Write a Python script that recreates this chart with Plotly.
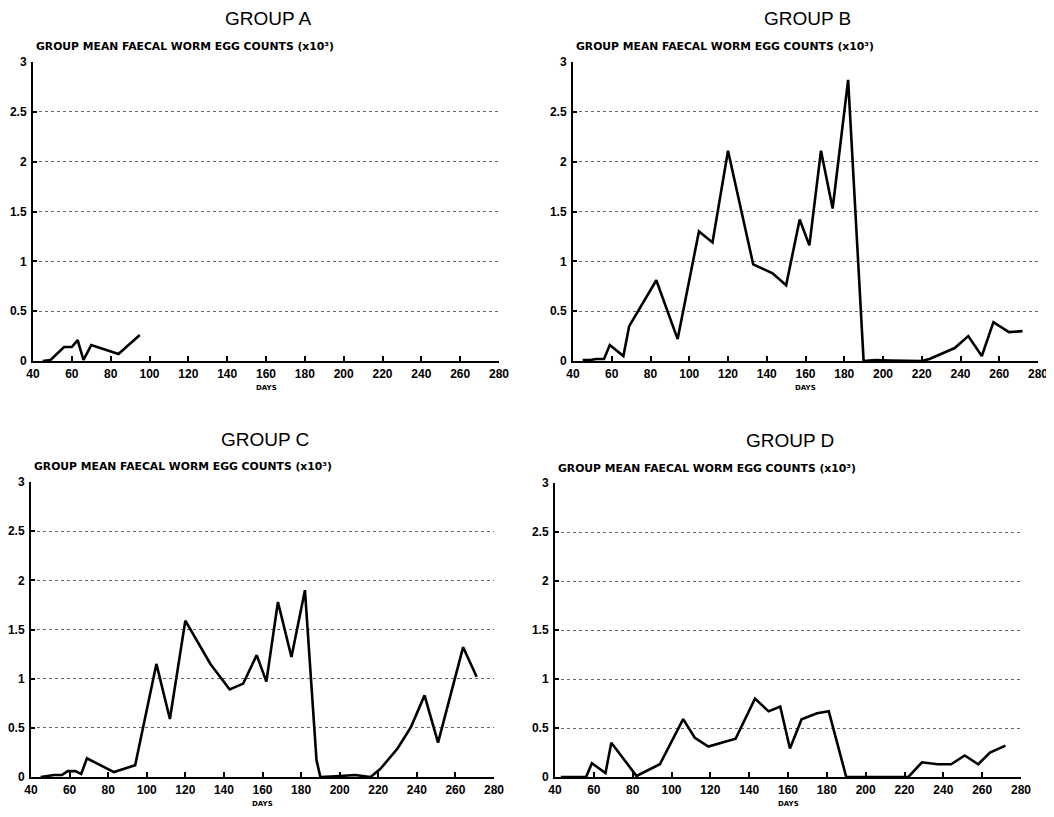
import plotly.graph_objects as go

# ---------------- data ----------------
days_a = [45, 49, 56, 60, 63, 66, 70, 84, 95]
vals_a = [0.0, 0.01, 0.14, 0.14, 0.21, 0.01, 0.16, 0.07, 0.26]

days_b = [45, 49, 52, 56, 59, 66, 69, 83, 94, 105, 112, 120, 133, 143, 150, 157, 162,
          168, 174, 182, 190, 196, 204, 212, 220, 224, 237, 244, 251, 257, 265, 272]
vals_b = [0.01, 0.01, 0.02, 0.02, 0.16, 0.05, 0.35, 0.81, 0.22, 1.30, 1.19, 2.11, 0.97,
          0.88, 0.76, 1.42, 1.16, 2.11, 1.53, 2.82, 0.0, 0.01, 0.005, 0.0, 0.0, 0.02,
          0.13, 0.25, 0.05, 0.39, 0.29, 0.30]

days_c = [45, 49, 52, 56, 59, 63, 66, 69, 83, 94, 105, 112, 120, 133, 143, 150, 157,
          162, 168, 175, 182, 188, 190, 200, 208, 216, 221, 230, 237, 244, 251, 264, 271]
vals_c = [0.0, 0.01, 0.02, 0.02, 0.06, 0.06, 0.03, 0.19, 0.05, 0.12, 1.15, 0.59, 1.59,
          1.15, 0.89, 0.95, 1.24, 0.97, 1.78, 1.22, 1.90, 0.17, 0.0, 0.01, 0.02, 0.0,
          0.08, 0.29, 0.51, 0.83, 0.35, 1.32, 1.02]

days_d = [43, 56, 59, 66, 69, 82, 94, 106, 112, 119, 133, 143, 150, 156, 161, 167, 175,
          181, 190, 200, 222, 229, 237, 244, 251, 258, 264, 272]
vals_d = [0.0, 0.0, 0.14, 0.04, 0.35, 0.01, 0.13, 0.59, 0.40, 0.31, 0.39, 0.80, 0.67,
          0.72, 0.29, 0.59, 0.65, 0.67, 0.0, 0.0, 0.0, 0.15, 0.13, 0.13, 0.22, 0.13,
          0.25, 0.32]

group_titles = ["GROUP A", "GROUP B", "GROUP C", "GROUP D"]
y_title = "GROUP MEAN FAECAL WORM EGG COUNTS (x10\u00b3)"
x_title = "DAYS"
x_ticks = [40, 60, 80, 100, 120, 140, 160, 180, 200, 220, 240, 260, 280]
y_ticks = [0, 0.5, 1, 1.5, 2, 2.5, 3]
y_ticklabels = ["0", "0.5", "1", "1.5", "2", "2.5", "3"]

series = [(days_a, vals_a), (days_b, vals_b), (days_c, vals_c), (days_d, vals_d)]

# ---------------- layout geometry (pixels) ----------------
OFF = 8  # default page body margin
W, H = 1054 - OFF, 817 - OFF
# left, right, top, bottom in window px for each panel
boxes = [
    (33, 499, 62, 361),
    (573, 1038, 62, 361),
    (31, 494, 482, 777),
    (555, 1021, 483, 777),
]

def px(v):
    return (v - OFF) / W

def py(v):
    return 1 - (v - OFF) / H

tick_font = dict(family="Liberation Sans, Arial, sans-serif", size=12, color="black", weight="bold")

fig = go.Figure()
layout = dict(
    width=W, height=H,
    margin=dict(l=0, r=0, t=0, b=0, autoexpand=False),
    paper_bgcolor="white", plot_bgcolor="white",
    showlegend=False,
    font=dict(family="Liberation Sans, Arial, sans-serif", color="black"),
)
annotations = []

for i, ((xs, ys), (l, r, t, b), title) in enumerate(zip(series, boxes, group_titles)):
    n = "" if i == 0 else str(i + 1)
    xa, ya = "x" + n, "y" + n
    fig.add_trace(go.Scatter(
        x=xs, y=ys, mode="lines", xaxis=xa, yaxis=ya,
        line=dict(color="black", width=2.6), hoverinfo="skip"))
    layout["xaxis" + n] = dict(
        domain=[px(l), px(r)], anchor=ya, range=[40, 280], automargin=False,
        tickvals=x_ticks, ticks="inside", ticklen=5, tickwidth=1.5, tickcolor="black",
        showline=True, linecolor="black", linewidth=2, showgrid=False, zeroline=False,
        tickfont=tick_font, ticklabelstandoff=1,
    )
    layout["yaxis" + n] = dict(
        domain=[py(b), py(t)], anchor=xa, range=[0, 3], automargin=False,
        tickvals=y_ticks, ticktext=y_ticklabels, ticks="inside", ticklen=4, tickwidth=1.5,
        tickcolor="black", showline=True, linecolor="black", linewidth=2,
        showgrid=True, gridcolor="#666666", gridwidth=1, griddash="dot", zeroline=False,
        tickfont=tick_font, ticklabelstandoff=2,
    )
    annotations.append(dict(
        text=title, x=px((l + r) / 2 + 2), y=py(t - 43), xref="paper", yref="paper",
        xanchor="center", yanchor="middle", showarrow=False,
        font=dict(family="Liberation Sans, Arial, sans-serif", size=19, color="black")))
    annotations.append(dict(
        text=y_title, x=px(l + 1), y=py(t - 15), xref="paper", yref="paper",
        xanchor="left", yanchor="middle", showarrow=False,
        font=dict(family="DejaVu Sans, sans-serif", size=10.8, color="black", weight="bold")))
    annotations.append(dict(
        text=x_title, x=px((l + r) / 2), y=py(b + 27), xref="paper", yref="paper",
        xanchor="center", yanchor="middle", showarrow=False,
        font=dict(family="DejaVu Sans, sans-serif", size=7, color="black", weight="bold")))

layout["annotations"] = annotations
fig.update_layout(**layout)
fig.write_html("out.html")
